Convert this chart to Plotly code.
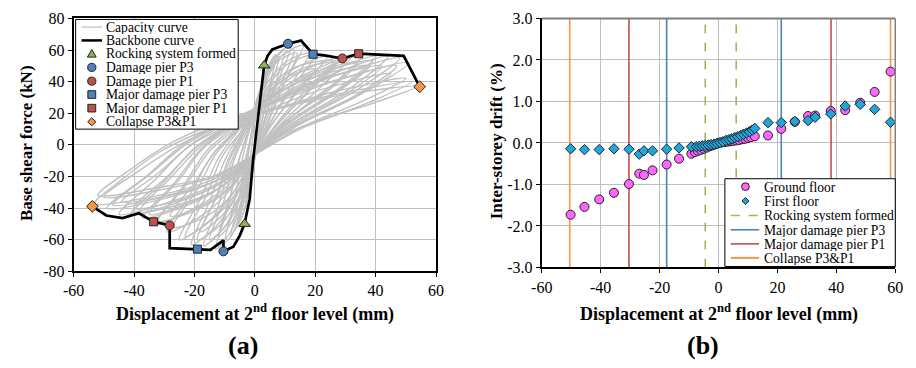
import plotly.graph_objects as go

W, H = 916, 368
FONT = "'Liberation Serif', 'Times New Roman', Times, serif"

# ---------------- Panel (a) data ----------------
backbone_x = [-53.8, -49.2, -43.8, -38.4, -33.5, -28.2, -28.2, -19.0, -14.7, -10.4, -10.4, -7.1, -5.0,
              -3.4, -1.7, -0.6, 0.3, 1.5, 3.1, 4.2, 5.8, 8.0, 11.0, 15.3, 19.3, 23.1, 29.0, 34.4,
              40.3, 49.3, 54.6]
backbone_y = [-38.9, -44.7, -46.3, -43.3, -48.7, -51.0, -65.4, -66.0, -66.4, -60.4, -67.4, -64.4, -57.4,
              -50.0, -34.2, -10.0, 5.0, 26.0, 50.3, 56.3, 60.4, 62.0, 64.0, 66.0, 57.4, 56.7, 54.7, 57.7,
              57.0, 56.3, 36.8]

rocking_a_x = [3.1, -3.4]
rocking_a_y = [50.3, -50.0]
damage_p3_x = [11.0, -10.4]
damage_p3_y = [64.0, -67.4]
damage_p1_x = [29.0, -28.2]
damage_p1_y = [54.7, -51.0]
major_p3_x = [19.3, -19.0]
major_p3_y = [57.4, -66.0]
major_p1_x = [34.4, -33.5]
major_p1_y = [57.7, -48.7]
collapse_x = [54.6, -53.8]
collapse_y = [36.8, -38.9]

# capacity (hysteresis) cycles: (displacement, force)
capacity_cycles = [
    [(-3, -40), (-2, -20), (-1, 0), (0.5, 20), (2, 33), (4, 42), (2.5, 25), (1, 5), (-0.5, -15), (-2, -30), (-3, -40)],
    [(-5, -48), (-3.5, -26), (-2, -4), (0, 18), (2.5, 40), (5, 52), (7, 57), (5, 38), (2, 12), (0, -8), (-2, -30), (-4, -44), (-5, -48)],
    [(-6, -52), (-4, -30), (-2.5, -8), (-0.5, 15), (2, 35), (5, 50), (8, 56), (5, 35), (2, 12), (0, -8), (-2, -28), (-4, -44), (-6, -52)],
    [(-8, -58), (-5, -32), (-3, -8), (0, 15), (3, 40), (7, 55), (10, 60), (7, 40), (3, 14), (0, -6), (-3, -32), (-6, -50), (-8, -58)],
    [(-10, -62), (-7, -38), (-4.5, -12), (-1.5, 12), (2, 35), (6, 54), (12, 63), (8, 42), (3, 15), (0, -5), (-3, -30), (-6, -52), (-10, -62)],
    [(-12, -58), (-8, -32), (-5, -8), (-1, 14), (3, 40), (8, 55), (13, 60), (9, 40), (3, 12), (0, -8), (-4, -34), (-8, -50), (-12, -58)],
    [(-13, -66), (-9, -40), (-6, -14), (-2, 10), (3, 36), (8, 55), (16, 63), (10, 40), (4, 14), (0, -6), (-4, -34), (-8, -55), (-13, -66)],
    [(-15, -60), (-10, -34), (-7, -10), (-2, 12), (2, 36), (7, 52), (14, 58), (9, 36), (4, 12), (0, -8), (-4, -30), (-9, -50), (-15, -60)],
    [(-17, -64), (-12, -38), (-8, -12), (-3, 10), (3, 33), (10, 50), (20, 57), (13, 38), (5, 14), (0, -6), (-5, -32), (-10, -52), (-17, -64)],
    [(-18, -55), (-12, -30), (-8, -8), (-3, 10), (3, 28), (10, 42), (20, 48), (13, 32), (5, 11), (0, -6), (-5, -28), (-11, -45), (-18, -55)],
    [(-19, -60), (-13, -34), (-9, -10), (-3, 12), (3, 36), (10, 52), (18, 58), (12, 38), (5, 13), (0, -7), (-5, -32), (-11, -50), (-19, -60)],
    [(-21, -63), (-15, -36), (-10, -10), (-4, 10), (3, 30), (12, 47), (24, 56), (16, 38), (6, 14), (0, -6), (-6, -32), (-13, -52), (-21, -63)],
    [(-23, -58), (-16, -32), (-11, -8), (-4, 10), (3, 32), (12, 48), (26, 53), (17, 35), (7, 13), (0, -6), (-6, -30), (-14, -47), (-23, -58)],
    [(-25, -60), (-18, -34), (-12, -8), (-5, 10), (3, 28), (14, 45), (28, 55), (19, 37), (8, 14), (0, -6), (-7, -30), (-15, -48), (-25, -60)],
    [(-27, -52), (-19, -28), (-13, -6), (-5, 11), (3, 30), (14, 47), (27, 52), (18, 34), (7, 12), (0, -6), (-7, -30), (-15, -44), (-27, -52)],
    [(-28, -45), (-20, -24), (-13, -4), (-5, 10), (4, 24), (15, 37), (30, 45), (20, 30), (8, 11), (0, -6), (-8, -26), (-17, -38), (-28, -45)],
    [(-29, -55), (-21, -30), (-14, -6), (-6, 10), (3, 27), (16, 44), (32, 56), (22, 37), (9, 14), (0, -6), (-8, -28), (-17, -44), (-29, -55)],
    [(-32, -48), (-23, -26), (-15, -4), (-6, 11), (3, 28), (17, 44), (34, 52), (24, 34), (9, 13), (0, -6), (-8, -27), (-18, -40), (-32, -48)],
    [(-33, -50), (-24, -27), (-16, -4), (-7, 11), (3, 26), (18, 44), (36, 57), (25, 37), (10, 14), (0, -6), (-9, -26), (-20, -40), (-33, -50)],
    [(-35, -44), (-25, -22), (-17, -2), (-7, 12), (3, 28), (18, 42), (38, 50), (27, 33), (10, 12), (0, -6), (-9, -24), (-21, -36), (-35, -44)],
    [(-37, -46), (-27, -25), (-18, -3), (-8, 12), (3, 25), (20, 43), (40, 56), (28, 36), (11, 14), (0, -6), (-10, -25), (-22, -38), (-37, -46)],
    [(-38, -42), (-28, -21), (-18, -1), (-8, 12), (3, 27), (19, 44), (39, 53), (28, 35), (10, 13), (0, -6), (-10, -25), (-22, -36), (-38, -42)],
    [(-40, -40), (-29, -20), (-19, -1), (-8, 12), (4, 25), (20, 40), (42, 50), (30, 32), (11, 12), (0, -6), (-10, -23), (-23, -34), (-40, -40)],
    [(-41, -44), (-30, -23), (-20, -2), (-9, 12), (3, 24), (22, 42), (44, 56), (31, 35), (12, 13), (0, -6), (-11, -24), (-25, -36), (-41, -44)],
    [(-44, -36), (-32, -18), (-21, 0), (-9, 12), (4, 22), (22, 35), (45, 45), (32, 29), (12, 11), (0, -6), (-12, -22), (-27, -31), (-44, -36)],
    [(-45, -44), (-33, -22), (-22, -1), (-10, 13), (3, 24), (24, 42), (48, 55), (34, 35), (13, 13), (0, -6), (-12, -24), (-28, -36), (-45, -44)],
    [(-47, -38), (-35, -19), (-23, 0), (-10, 14), (4, 26), (25, 40), (47, 50), (34, 32), (13, 12), (0, -6), (-12, -22), (-28, -32), (-47, -38)],
    [(-49, -40), (-36, -20), (-24, 0), (-11, 14), (3, 24), (26, 40), (51, 52), (36, 33), (14, 12), (0, -6), (-13, -23), (-30, -34), (-49, -40)],
    [(-50, -33), (-38, -16), (-25, 0), (-11, 12), (4, 21), (25, 33), (50, 42), (36, 28), (14, 10), (0, -6), (-13, -20), (-30, -28), (-50, -33)],
    [(-52, -32), (-40, -14), (-27, 2), (-12, 14), (4, 22), (27, 32), (52, 40), (38, 27), (15, 10), (0, -6), (-14, -20), (-32, -27), (-52, -32)],
    [(-53, -37), (-44, -22), (-32, -5), (-18, 8), (-4, 17), (10, 24), (30, 32), (54, 37), (40, 27), (22, 16), (8, 5), (0, -6), (-14, -22), (-32, -32), (-53, -37)],
]

# ---------------- Panel (b) data ----------------
ground_x = [-50.2, -45.5, -40.5, -35.5, -30.4, -26.9, -25.3, -22.4, -17.6, -13.4, -9.2, -8.0, -7.0, -6.0,
            -5.0, -4.0, -3.0, -2.0, -1.0, 0.0, 1.0, 2.0, 3.0, 4.0, 5.0, 6.0, 7.0, 8.0, 9.0, 10.0, 11.0,
            12.3, 16.8, 21.3, 25.9, 30.4, 32.8, 38.1, 43.0, 48.1, 53.0, 58.4]
ground_y = [-1.73, -1.54, -1.36, -1.20, -0.99, -0.74, -0.77, -0.66, -0.52, -0.38, -0.26, -0.22, -0.19, -0.17,
            -0.14, -0.11, -0.08, -0.06, -0.03, 0.00, 0.01, 0.02, 0.03, 0.04, 0.05, 0.06, 0.07, 0.09, 0.10,
            0.12, 0.14, 0.16, 0.18, 0.34, 0.51, 0.65, 0.66, 0.77, 0.79, 0.97, 1.23, 1.72]
first_x = [-50.2, -45.5, -40.5, -35.5, -30.4, -26.9, -25.3, -22.4, -17.6, -13.4, -9.2, -7.5, -6.5, -5.5,
           -4.5, -3.5, -2.5, -1.5, -0.5, 0.5, 1.5, 2.5, 3.5, 4.5, 5.5, 6.5, 7.5, 8.5, 9.5, 10.5, 11.5,
           12.3, 16.8, 21.3, 25.9, 30.4, 32.8, 38.1, 43.0, 48.1, 53.0, 58.4]
first_y = [-0.14, -0.16, -0.16, -0.14, -0.15, -0.27, -0.19, -0.19, -0.15, -0.12, -0.09, -0.09, -0.08, -0.07,
           -0.06, -0.05, -0.04, -0.03, -0.01, 0.01, 0.03, 0.06, 0.08, 0.10, 0.13, 0.15, 0.18, 0.21, 0.24,
           0.27, 0.31, 0.35, 0.49, 0.49, 0.52, 0.54, 0.62, 0.70, 0.89, 0.93, 0.81, 0.50]

rocking_lines = [-4.5, 6.0]
major_p3_lines = [-17.6, 21.3]
major_p1_lines = [-30.4, 38.2]
collapse_lines = [-50.5, 58.4]

x_ticks = [-60, -40, -20, 0, 20, 40, 60]
x_tick_text = ["-60", "-40", "-20", "0", "20", "40", "60"]
ya_ticks = [-80, -60, -40, -20, 0, 20, 40, 60, 80]
ya_tick_text = ["-80", "-60", "-40", "-20", "0", "20", "40", "60", "80"]
yb_ticks = [-3, -2, -1, 0, 1, 2, 3]
yb_tick_text = ["-3.0", "-2.0", "-1.0", "0.0", "1.0", "2.0", "3.0"]

# ---------------- colours ----------------
GRAY_CURVE = "#C0C0C0"
GREEN = "#8DB255"
BLUE = "#4F81BD"
RED = "#C0504D"
ORANGE = "#F79646"
MAGENTA = "#FF66FF"
CYAN = "#1CA7DF"
EDGE = "#222222"

fig = go.Figure()

# capacity curves
cx, cy = [], []
for cyc in capacity_cycles:
    cx += [p[0] for p in cyc] + [None]
    cy += [p[1] for p in cyc] + [None]
fig.add_trace(go.Scatter(x=cx, y=cy, mode="lines", line=dict(color=GRAY_CURVE, width=1.4, shape="spline", smoothing=0.9),
                         xaxis="x", yaxis="y", showlegend=False, hoverinfo="skip"))
fig.add_trace(go.Scatter(x=backbone_x, y=backbone_y, mode="lines", line=dict(color="black", width=2.7),
                         xaxis="x", yaxis="y", showlegend=False))


def mk(xs, ys, sym, color, size, axis=("x", "y")):
    return go.Scatter(x=xs, y=ys, mode="markers",
                      marker=dict(symbol=sym, color=color, size=size, line=dict(color=EDGE, width=1)),
                      xaxis=axis[0], yaxis=axis[1], showlegend=False)


fig.add_trace(mk(rocking_a_x, rocking_a_y, "triangle-up", GREEN, 10))
fig.add_trace(mk(damage_p3_x, damage_p3_y, "circle", BLUE, 9))
fig.add_trace(mk(damage_p1_x, damage_p1_y, "circle", RED, 9))
fig.add_trace(mk(major_p3_x, major_p3_y, "square", BLUE, 8))
fig.add_trace(mk(major_p1_x, major_p1_y, "square", RED, 8))
fig.add_trace(mk(collapse_x, collapse_y, "diamond", ORANGE, 9))


# panel (b) vertical event lines
def vlines(vals, color, dash="solid"):
    xs, ys = [], []
    for v in vals:
        xs += [v, v, None]
        ys += [-3, 3, None]
    return go.Scatter(x=xs, y=ys, mode="lines", line=dict(color=color, width=1.6, dash=dash),
                      xaxis="x2", yaxis="y2", showlegend=False, hoverinfo="skip")


fig.add_trace(vlines(rocking_lines, "#9BBB59", "dash"))
fig.add_trace(vlines(major_p3_lines, BLUE))
fig.add_trace(vlines(major_p1_lines, RED))
fig.add_trace(vlines(collapse_lines, ORANGE))
fig.add_trace(mk(ground_x, ground_y, "circle", MAGENTA, 9, ("x2", "y2")))
fig.add_trace(mk(first_x, first_y, "diamond", CYAN, 8, ("x2", "y2")))

# ---------------- layout ----------------
def X(p):
    return p / W


def Y(p):
    return 1 - p / H


tickfont = dict(family=FONT, size=16, color="black")
common = dict(showgrid=True, gridcolor="#BFBFBF", gridwidth=1.3, zeroline=False, ticks="outside",
              ticklen=4, tickcolor="black", tickfont=tickfont, showline=True, linecolor="black", linewidth=2,
              tickmode="array")

fig.update_layout(
    width=W, height=H, margin=dict(l=0, r=0, t=0, b=0),
    paper_bgcolor="white", plot_bgcolor="white", showlegend=False,
    font=dict(family=FONT, color="black"),
    xaxis=dict(domain=[X(64), X(434)], range=[-60, 60], tickvals=x_ticks, ticktext=x_tick_text,
               anchor="y", mirror=True, **common),
    yaxis=dict(domain=[Y(276), Y(11)], range=[-80, 80], tickvals=ya_ticks, ticktext=ya_tick_text,
               anchor="x", mirror=True, **common),
    xaxis2=dict(domain=[X(542), X(903)], range=[-60, 60], tickvals=x_ticks, ticktext=x_tick_text,
                anchor="y2", **common),
    yaxis2=dict(domain=[Y(272), Y(11)], range=[-3, 3], tickvals=yb_ticks, ticktext=yb_tick_text,
                anchor="x2", **common),
)

shapes = []
annotations = []

# panel (b) top / right frame in gray
shapes.append(dict(type="line", xref="paper", yref="paper", x0=X(542), x1=X(903), y0=Y(11), y1=Y(11),
                   line=dict(color="#7F7F7F", width=2), layer="above"))
shapes.append(dict(type="line", xref="paper", yref="paper", x0=X(903), x1=X(903), y0=Y(11), y1=Y(272),
                   line=dict(color="#7F7F7F", width=1.5), layer="above"))


def box(x0, y0, x1, y1):
    shapes.append(dict(type="rect", xref="paper", yref="paper", x0=X(x0), x1=X(x1), y0=Y(y1), y1=Y(y0),
                       line=dict(color="black", width=1), fillcolor="white", layer="above"))


def seg(x0, x1, y, color, width, dash="solid"):
    shapes.append(dict(type="line", xref="paper", yref="paper", x0=X(x0), x1=X(x1), y0=Y(y), y1=Y(y),
                       line=dict(color=color, width=width, dash=dash), layer="above"))


def sym(kind, cx_, cy_, color, r=4.5):
    ln = dict(color=EDGE, width=1)
    if kind == "circle":
        shapes.append(dict(type="circle", xref="paper", yref="paper", x0=X(cx_ - r), x1=X(cx_ + r),
                           y0=Y(cy_ + r), y1=Y(cy_ - r), fillcolor=color, line=ln, layer="above"))
    elif kind == "square":
        shapes.append(dict(type="rect", xref="paper", yref="paper", x0=X(cx_ - r), x1=X(cx_ + r),
                           y0=Y(cy_ + r), y1=Y(cy_ - r), fillcolor=color, line=ln, layer="above"))
    else:
        if kind == "triangle":
            pts = [(cx_, cy_ - r - 0.5), (cx_ + r + 0.5, cy_ + r - 0.5), (cx_ - r - 0.5, cy_ + r - 0.5)]
        else:
            pts = [(cx_, cy_ - r), (cx_ + r, cy_), (cx_, cy_ + r), (cx_ - r, cy_)]
        path = "M " + " L ".join(f"{X(a):.5f},{Y(b):.5f}" for a, b in pts) + " Z"
        shapes.append(dict(type="path", xref="paper", yref="paper", path=path, fillcolor=color, line=ln,
                           layer="above"))


def label(text, x, y, size=13.6, anchor="left", bold=False, angle=0, height=None):
    ann = dict(text=f"<b>{text}</b>" if bold else text, x=X(x), y=Y(y), xref="paper",
               yref="paper", showarrow=False, xanchor=anchor, yanchor="middle",
               textangle=angle, font=dict(family=FONT, size=size, color="black"))
    if height:
        ann["height"] = height
    annotations.append(ann)


# legend (a)
box(66, 12, 232, 127)
rows_a = [20, 34, 48, 62.3, 76.7, 90.7, 105, 119.3]
seg(72, 93, rows_a[0], GRAY_CURVE, 1.2)
seg(72, 93, rows_a[1], "black", 2.5)
sym("triangle", 82.5, rows_a[2], GREEN, 4)
sym("circle", 82.5, rows_a[3], BLUE, 4.2)
sym("circle", 82.5, rows_a[4], RED, 4.2)
sym("square", 82.5, rows_a[5], BLUE, 4)
sym("square", 82.5, rows_a[6], RED, 4)
sym("diamond", 82.5, rows_a[7], ORANGE, 4.2)
for t, yy in zip(["Capacity curve", "Backbone curve", "Rocking system formed", "Damage pier P3",
                  "Damage pier P1", "Major damage pier P3", "Major damage pier P1", "Collapse P3&P1"], rows_a):
    label(t, 95, yy, height=13)

# legend (b)
box(729, 179, 903, 271)
rows_b = [187.3, 202.3, 217.5, 232.5, 247.3, 262]
sym("circle", 750, rows_b[0], MAGENTA, 4)
sym("diamond", 750, rows_b[1], CYAN, 3.6)
seg(735, 764, rows_b[2], "#9BBB59", 1.6, "dash")
seg(735, 764, rows_b[3], BLUE, 1.6)
seg(735, 764, rows_b[4], RED, 1.6)
seg(735, 764, rows_b[5], ORANGE, 2)
for t, yy in zip(["Ground floor", "First floor", "Rocking system formed", "Major damage pier P3",
                  "Major damage pier P1", "Collapse P3&P1"], rows_b):
    label(t, 767, yy, height=14)

# axis titles and panel labels
label("Displacement at 2<sup>nd</sup> floor level (mm)", 249, 320, size=18, anchor="center", bold=True)
label("Displacement at 2<sup>nd</sup> floor level (mm)", 723, 320, size=18, anchor="center", bold=True)
label("Base shear force (kN)", 16, 142, size=17, anchor="center", bold=True, angle=-90)
label("Inter-storey drift (%)", 496, 140, size=17, anchor="center", bold=True, angle=-90)
label("(a)", 237, 354, size=26, anchor="center", bold=True)
label("(b)", 707, 354, size=26, anchor="center", bold=True)

fig.update_layout(shapes=shapes, annotations=annotations)
fig.write_html("out.html")
